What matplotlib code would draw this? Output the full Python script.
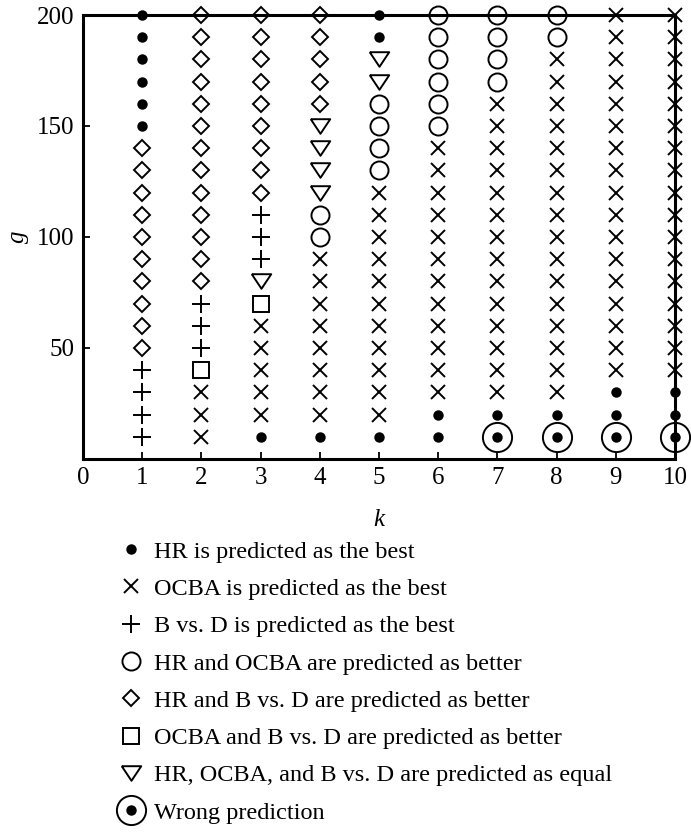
import matplotlib
matplotlib.use("Agg")
import matplotlib.pyplot as plt
from matplotlib.lines import Line2D

plt.rcParams['font.family'] = ['Liberation Serif', 'DejaVu Serif']

# g values (rows) and k values (columns)
g_vals = [10, 20, 30, 40, 50, 60, 70, 80, 90, 100,
          110, 120, 130, 140, 150, 160, 170, 180, 190, 200]
k_vals = [1, 2, 3, 4, 5, 6, 7, 8, 9, 10]

# prediction per (k, g), one string per column, g = 10 ... 200
# h = HR best, o = OCBA best, b = B vs. D best,
# c = HR & OCBA better, d = HR & B vs. D better,
# s = OCBA & B vs. D better, e = all equal
cols = [
    "bbbb" "dddddddddd" "hhhhhh",                 # k=1
    "ooo" "s" "bbb" "ddddddddddddd",              # k=2
    "h" "ooooo" "s" "e" "bbb" "ddddddddd",        # k=3
    "h" "oooooooo" "cc" "eeee" "ddddd",           # k=4
    "h" "ooooooooooo" "cccc" "ee" "hh",           # k=5
    "hh" "oooooooooooo" "cccccc",                 # k=6
    "hh" "oooooooooooooo" "cccc",                 # k=7
    "hh" "oooooooooooooooo" "cc",                 # k=8
    "hhh" "ooooooooooooooooo",                    # k=9
    "hhh" "ooooooooooooooooo",                    # k=10
]

wrong_k = [7, 8, 9, 10]
wrong_g = [10, 10, 10, 10]

labels = {
    'h': "HR is predicted as the best",
    'o': "OCBA is predicted as the best",
    'b': "B vs. D is predicted as the best",
    'c': "HR and OCBA are predicted as better",
    'd': "HR and B vs. D are predicted as better",
    's': "OCBA and B vs. D are predicted as better",
    'e': "HR, OCBA, and B vs. D are predicted as equal",
}
order = ['h', 'o', 'b', 'c', 'd', 's', 'e']

tri = [(-1.0, 0.75), (1.0, 0.75), (0.0, -0.75), (-1.0, 0.75)]
style = {
    'h': dict(marker='o', ms=7.5, mfc='black', mec='black', mew=0),
    'o': dict(marker='x', ms=9.5, mec='black', mew=1.4),
    'b': dict(marker='+', ms=13, mec='black', mew=1.4),
    'c': dict(marker='o', ms=13, mfc='none', mec='black', mew=1.4),
    'd': dict(marker='D', ms=8.5, mfc='none', mec='black', mew=1.4),
    's': dict(marker='s', ms=11, mfc='none', mec='black', mew=1.4),
    'e': dict(marker=tri, ms=14, mfc='none', mec='black', mew=1.4),
}

fig = plt.figure(figsize=(6.91, 8.38), dpi=100)
ax = fig.add_axes([0.1201, 0.4523, 0.8567, 0.5298])

for code in order:
    xs, ys = [], []
    for k, col in zip(k_vals, cols):
        assert len(col) == len(g_vals)
        for g, c in zip(g_vals, col):
            if c == code:
                xs.append(k)
                ys.append(g)
    ax.plot(xs, ys, ls='none', clip_on=False, **style[code])

ax.plot(wrong_k, wrong_g, ls='none', marker='o', ms=21, mfc='none',
        mec='black', mew=1.4, clip_on=False)

ax.set_xlim(0, 10)
ax.set_ylim(0, 200)
ax.set_xticks(range(0, 11))
ax.set_yticks([50, 100, 150, 200])
for sp in ax.spines.values():
    sp.set_linewidth(2.2)
ax.tick_params(direction='in', length=5, width=1.3, labelsize=18, pad=6,
               top=False, right=False)
ax.set_xlabel("k", fontsize=18, fontstyle='italic', labelpad=14)
ax.set_ylabel("g", fontsize=18, fontstyle='italic', labelpad=6)

handles = [Line2D([], [], ls='none', **style[c]) for c in order]
big = Line2D([], [], ls='none', marker='o', ms=21, mfc='none', mec='black', mew=1.4)
handles.append((big, Line2D([], [], ls='none', **style['h'])))
leg_labels = [labels[c] for c in order] + ["Wrong prediction"]

fig.legend(handles, leg_labels, loc='upper left', bbox_to_anchor=(0.172, 0.355),
           frameon=False, fontsize=17.5, handlelength=1.0, handletextpad=0.45,
           labelspacing=0.63, borderaxespad=0, borderpad=0)

fig.savefig("out.png", dpi=100)
